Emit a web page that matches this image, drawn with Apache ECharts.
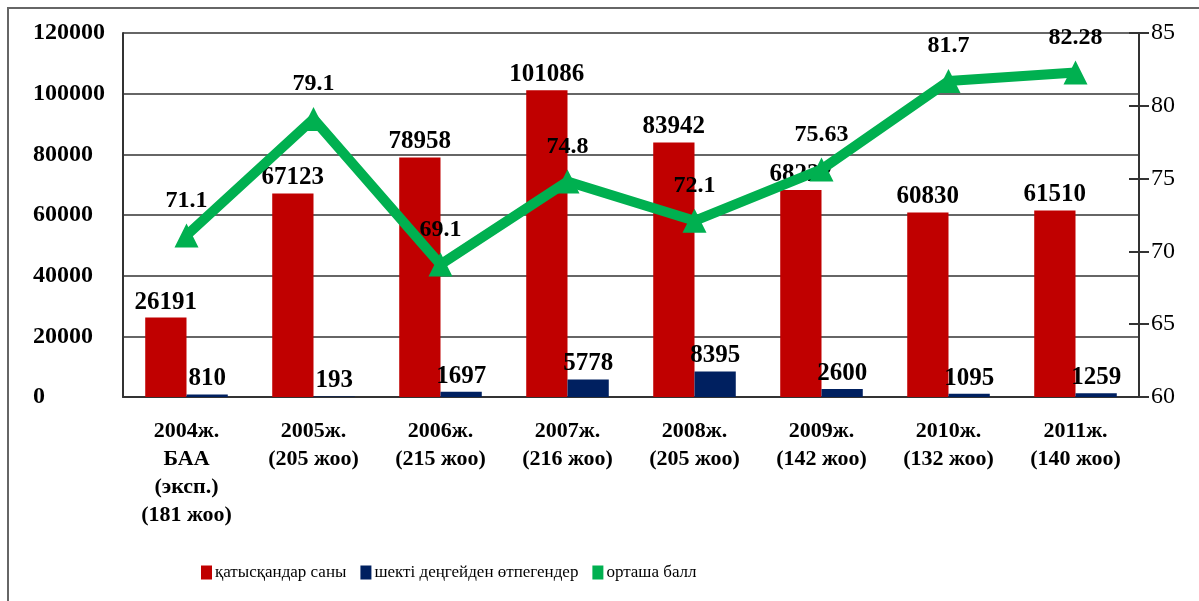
<!DOCTYPE html>
<html>
<head>
<meta charset="utf-8">
<script src="https://cdn.jsdelivr.net/npm/echarts@6/dist/echarts.min.js"></script>
<style>
  html, body { margin: 0; padding: 0; background: #fff; }
  #chart { width: 1199px; height: 601px; }
</style>
</head>
<body>
<div id="chart"></div>
<script>
var categories = [
  '2004ж.\nБАА\n(эксп.)\n(181 жоо)',
  '2005ж.\n(205 жоо)',
  '2006ж.\n(215 жоо)',
  '2007ж.\n(216 жоо)',
  '2008ж.\n(205 жоо)',
  '2009ж.\n(142 жоо)',
  '2010ж.\n(132 жоо)',
  '2011ж.\n(140 жоо)'
];
var participants = [26191, 67123, 78958, 101086, 83942, 68222, 60830, 61510];
var failed = [810, 193, 1697, 5778, 8395, 2600, 1095, 1259];
var avgScore = [71.1, 79.1, 69.1, 74.8, 72.1, 75.63, 81.7, 82.28];

var names = ['қатысқандар саны', 'шекті деңгейден өтпегендер', 'орташа балл'];
var serif = '"Liberation Serif", "DejaVu Serif", serif';

var chart = echarts.init(document.getElementById('chart'));

var barLabel = {
  show: true,
  position: 'top',
  distance: 3,
  color: '#000',
  fontFamily: serif,
  fontWeight: 'bold',
  fontSize: 25
};

chart.setOption({
  animation: false,
  textStyle: { fontFamily: serif },
  graphic: [{
    type: 'rect',
    shape: { x: 8, y: 8, width: 1300, height: 700 },
    style: { fill: 'none', stroke: '#666', lineWidth: 2 },
    silent: true
  }],
  legend: {
    top: 559,
    left: 196,
    itemGap: 14,
    itemWidth: 11,
    itemHeight: 14,
    data: [
      { name: names[0], icon: 'rect' },
      { name: names[1], icon: 'rect' },
      { name: names[2], icon: 'rect' }
    ],
    textStyle: { fontFamily: serif, fontSize: 17, color: '#000', padding: [0, 0, 0, -2] }
  },
  grid: { left: 123, right: 60, top: 33, bottom: 204 },
  xAxis: {
    type: 'category',
    data: categories,
    axisLine: { lineStyle: { color: '#333', width: 2 } },
    axisTick: { show: false },
    axisLabel: {
      interval: 0,
      margin: 20,
      color: '#000',
      fontFamily: serif,
      fontWeight: 'bold',
      fontSize: 22,
      lineHeight: 28
    }
  },
  yAxis: [{
    type: 'value',
    min: 0,
    max: 120000,
    interval: 20000,
    axisLine: { show: true, lineStyle: { color: '#333', width: 2 } },
    axisTick: { show: false },
    splitLine: { lineStyle: { color: '#333', width: 1.5 } },
    axisLabel: {
      align: 'left',
      margin: 90,
      color: '#000',
      fontFamily: serif,
      fontWeight: 'bold',
      fontSize: 24,
      formatter: function(v) { return String(v); }
    }
  }, {
    type: 'value',
    position: 'right',
    min: 60,
    max: 85,
    interval: 5,
    axisLine: { show: true, lineStyle: { color: '#333', width: 2 } },
    axisTick: { show: true, length: 10, lineStyle: { color: '#333', width: 2 } },
    splitLine: { show: false },
    axisLabel: {
      margin: 12,
      color: '#000',
      fontFamily: serif,
      fontSize: 24
    }
  }, {
    type: 'value',
    position: 'right',
    min: 60,
    max: 85,
    interval: 5,
    axisLine: { show: false },
    axisTick: { show: true, inside: true, length: 10, lineStyle: { color: '#333', width: 2 } },
    splitLine: { show: false },
    axisLabel: { show: false }
  }],
  series: [{
    name: names[0],
    type: 'bar',
    data: participants,
    barGap: '0%',
    barCategoryGap: '35%',
    itemStyle: { color: '#c00000' },
    label: barLabel
  }, {
    name: names[1],
    type: 'bar',
    data: failed,
    itemStyle: { color: '#002060' },
    label: barLabel
  }, {
    name: names[2],
    type: 'line',
    yAxisIndex: 1,
    z: 3,
    data: avgScore,
    symbol: 'triangle',
    symbolSize: 24,
    lineStyle: { color: '#00b050', width: 10 },
    itemStyle: { color: '#00b050' },
    label: {
      show: true,
      position: 'top',
      distance: 11,
      color: '#000',
      fontFamily: serif,
      fontWeight: 'bold',
      fontSize: 24
    }
  }]
});
</script>
</body>
</html>
